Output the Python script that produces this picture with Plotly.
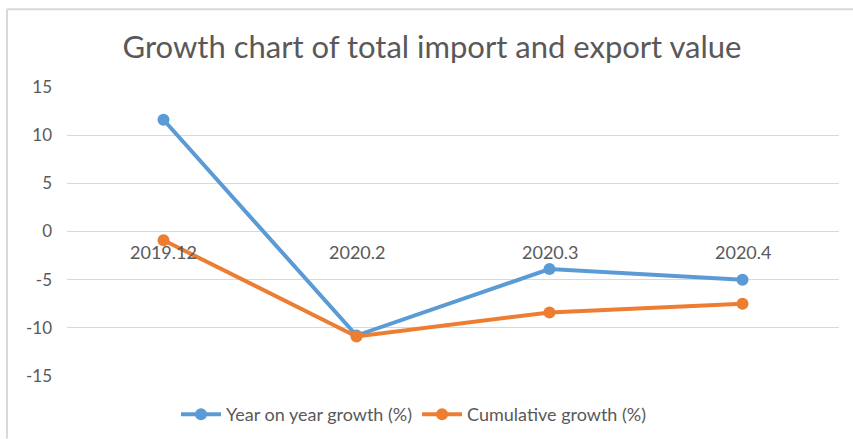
import plotly.graph_objects as go

categories = ["2019.12", "2020.2", "2020.3", "2020.4"]
yoy_growth = [11.6, -10.8, -3.9, -5.0]
cumulative_growth = [-0.9, -10.9, -8.4, -7.5]
y_ticks = [-15, -10, -5, 0, 5, 10, 15]
y_tick_labels = ["-15", "-10", "-5", "0", "5", "10", "15"]

FONT = "Lato"
GREY = "#595959"
GRID = "#d9d9d9"

fig = go.Figure()
fig.add_trace(go.Scatter(
    x=categories, y=yoy_growth, mode="lines+markers",
    name="Year on year growth (%)",
    line=dict(color="#5B9BD5", width=4),
    marker=dict(color="#5B9BD5", size=12),
))
fig.add_trace(go.Scatter(
    x=categories, y=cumulative_growth, mode="lines+markers",
    name="Cumulative growth (%)",
    line=dict(color="#ED7D31", width=4),
    marker=dict(color="#ED7D31", size=12),
))

# category labels sit on the zero line (Excel-style axis crossing at 0)
for i, c in enumerate(categories):
    fig.add_annotation(x=i, y=0, xref="x", yref="y", text=c, showarrow=False,
                       yanchor="top", yshift=-7,
                       font=dict(family=FONT, size=18, color=GREY))

L, R, T, B = 67, 14, 87, 62.5
W, H = 853, 439
pw, ph = W - L - R, H - T - B

def px(x):
    return (x - L) / pw

def py(y):
    return (H - B - y) / ph

fig.update_layout(
    width=W, height=H,
    margin=dict(l=L, r=R, t=T, b=B, pad=0, autoexpand=False),
    paper_bgcolor="white", plot_bgcolor="white",
    title=dict(text="Growth chart of total import and export value",
               x=432 / W, xref="container", xanchor="center",
               y=1 - 47 / H, yanchor="middle",
               font=dict(family=FONT, size=31, color=GREY)),
    xaxis=dict(type="category", range=[-0.5, 3.5], showticklabels=False,
               showgrid=False, zeroline=False, showline=False, fixedrange=True),
    yaxis=dict(range=[-15, 15], tickvals=y_ticks, ticktext=y_tick_labels,
               showgrid=True, gridcolor=GRID, gridwidth=1.2, zeroline=False,
               showline=False, ticks="", ticklabelstandoff=14,
               tickfont=dict(family=FONT, size=17, color=GREY)),
    legend=dict(orientation="h", x=px(414), xanchor="center",
                y=py(415), yanchor="middle",
                font=dict(family=FONT, size=18, color=GREY),
                itemwidth=40, tracegroupgap=0),
    showlegend=True,
    font=dict(family=FONT, color=GREY),
    shapes=[
        dict(type="line", xref="paper", yref="paper",
             x0=px(7), x1=px(853), y0=py(9), y1=py(9),
             line=dict(color=GRID, width=2)),
        dict(type="line", xref="paper", yref="paper",
             x0=px(7), x1=px(7), y0=py(9), y1=py(439),
             line=dict(color=GRID, width=2)),
    ],
)

fig.write_html("out.html", config={"displayModeBar": False},
               post_script="document.body.style.margin='0';document.body.style.overflow='hidden';")
